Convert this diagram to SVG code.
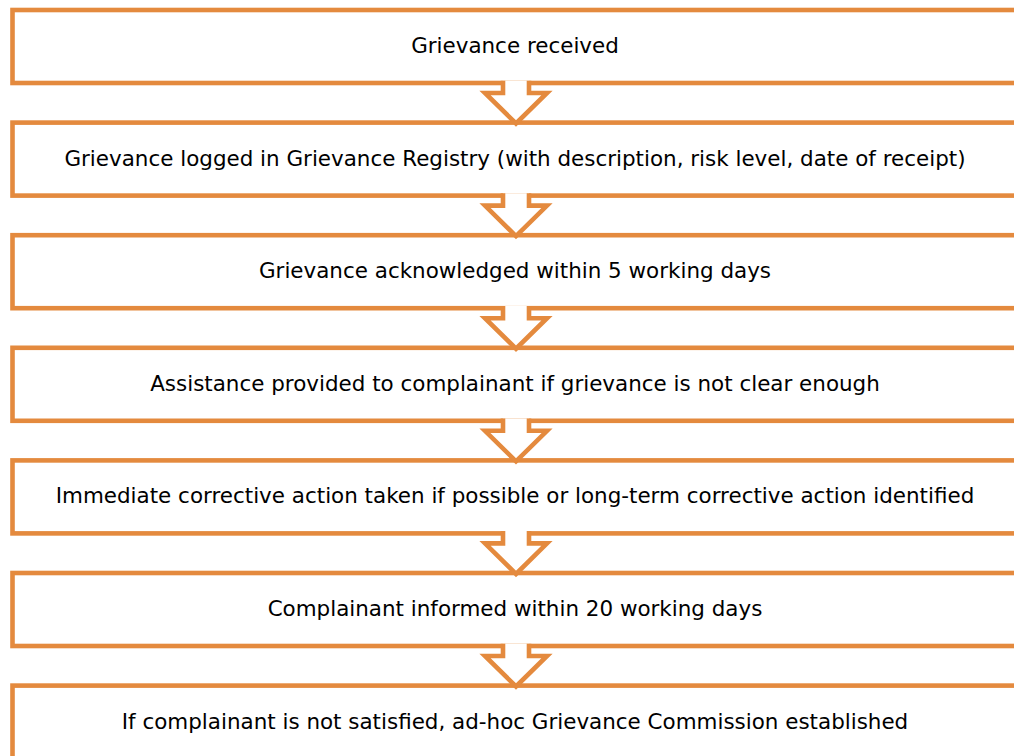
<svg xmlns="http://www.w3.org/2000/svg" width="1014" height="756" viewBox="0 0 1014 756">
  <style>
    .box { fill: #ffffff; stroke: #E48A3E; stroke-width: 4.6; }
    .arrow { fill: #ffffff; stroke: #E48A3E; stroke-width: 4.6; stroke-linejoin: miter; }
    .label { font-family: "DejaVu Sans", Verdana, sans-serif; font-size: 21.45px; fill: #000000; text-anchor: middle; }
  </style>
  <defs>
    <!-- hollow block arrow; origin at the centre of the upper box's bottom edge -->
    <path id="downArrow" d="M-13,-2.3 V10 H-31 L0,40.5 L31,10 H13 V-2.3"/>
  </defs>
  <rect width="1014" height="756" fill="#ffffff"/>

  <g id="step1">
    <rect class="box" x="12.5" y="10" width="1030" height="73"/>
    <text class="label" x="515" y="52.5">Grievance received</text>
  </g>
  <g id="step2">
    <rect class="box" x="12.5" y="122.6" width="1030" height="73"/>
    <text class="label" x="515" y="165.5">Grievance logged in Grievance Registry (with description, risk level, date of receipt)</text>
  </g>
  <g id="step3">
    <rect class="box" x="12.5" y="235.2" width="1030" height="73"/>
    <text class="label" x="515" y="278">Grievance acknowledged within 5 working days</text>
  </g>
  <g id="step4">
    <rect class="box" x="12.5" y="347.8" width="1030" height="73"/>
    <text class="label" x="515" y="390.5">Assistance provided to complainant if grievance is not clear enough</text>
  </g>
  <g id="step5">
    <rect class="box" x="12.5" y="460.4" width="1030" height="73"/>
    <text class="label" x="515" y="503">Immediate corrective action taken if possible or long-term corrective action identified</text>
  </g>
  <g id="step6">
    <rect class="box" x="12.5" y="573" width="1030" height="73"/>
    <text class="label" x="515" y="616">Complainant informed within 20 working days</text>
  </g>
  <g id="step7">
    <rect class="box" x="12.5" y="685.6" width="1030" height="100"/>
    <text class="label" x="515" y="728.5">If complainant is not satisfied, ad-hoc Grievance Commission established</text>
  </g>

  <g id="connectors">
    <use href="#downArrow" class="arrow" x="516" y="83"/>
    <use href="#downArrow" class="arrow" x="516" y="195.6"/>
    <use href="#downArrow" class="arrow" x="516" y="308.2"/>
    <use href="#downArrow" class="arrow" x="516" y="420.8"/>
    <use href="#downArrow" class="arrow" x="516" y="533.4"/>
    <use href="#downArrow" class="arrow" x="516" y="646"/>
  </g>
</svg>
